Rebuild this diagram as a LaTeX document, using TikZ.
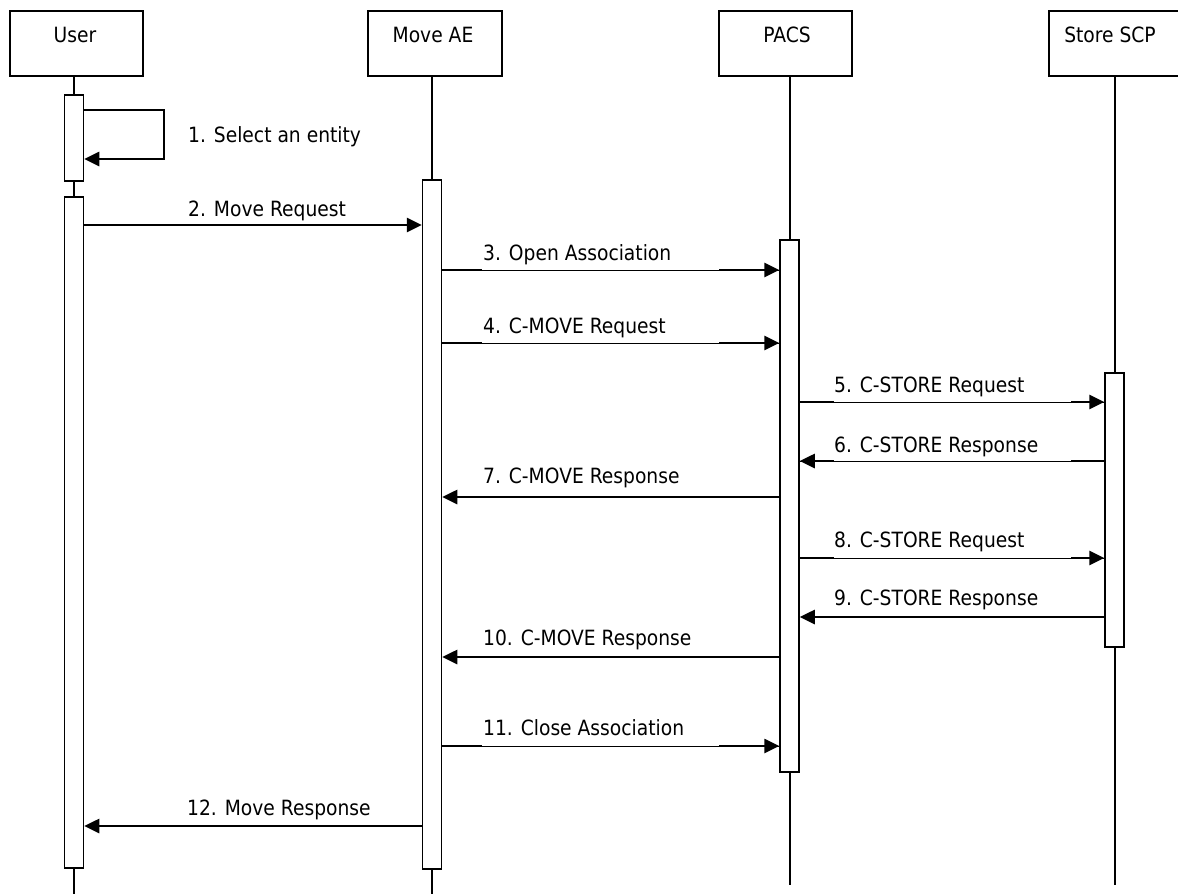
\documentclass[tikz,border=0pt]{standalone}
\usepackage{fontspec}
\setmainfont{DejaVu Sans}[FakeStretch=0.89]
\usetikzlibrary{arrows.meta}
\begin{document}
\begin{tikzpicture}[x=1pt,y=-1pt,
  lbl/.style={font=\fontsize{21}{25}\selectfont, anchor=base west, inner sep=0pt},
  albl/.style={font=\fontsize{21}{25}\selectfont, anchor=base, inner sep=0pt},
  actor/.style={draw, line width=1.8pt, minimum width=133pt, minimum height=65pt, anchor=north west, inner sep=0pt},
  bar/.style={draw, fill=white, line width=1.5pt, minimum width=19pt, anchor=north, inner sep=0pt},
  life/.style={line width=1.6pt},
  msg/.style={line width=2.6pt, -{Triangle[length=15pt,width=14pt]}},
  thickseg/.style={line width=2.6pt},
  thinmsg/.style={line width=1pt}]
\clip (0,0) rectangle (1178,894);
% actors
\node[actor] (user) at (9,10) {};
\node[actor, minimum width=134pt] (move) at (367,10) {};
\node[actor] (pacs) at (718,10) {};
\node[actor] (store) at (1048,10) {};
\node[albl] (tu) at (75,42) {User};
\node[albl] (tm) at (433,42) {Move AE};
\node[albl] (tp) at (787,42) {PACS};
\node[albl] (ts) at (1110,42) {Store SCP};
% lifelines
\coordinate (uEnd) at (74,894);
\coordinate (mEnd) at (432,894);
\coordinate (pEnd) at (790,885);
\coordinate (sEnd) at (1115,885);
\draw[life] (uEnd |- user.south) -- (uEnd);
\draw[life] (mEnd |- move.south) -- (mEnd);
\draw[life] (pEnd |- pacs.south) -- (pEnd);
\draw[life] (sEnd |- store.south) -- (sEnd);
% activation bars
\node[bar, minimum height=86pt] (ua1) at (74,94) {};
\node[bar, minimum height=671pt] (ua2) at (74,196) {};
\node[bar, minimum height=689pt] (ma) at (432,179) {};
\node[bar, minimum height=532pt] (pa) at (789.5,239) {};
\node[bar, minimum height=274pt] (sa) at (1114.5,372) {};
% 1 self message
\draw[msg, line join=miter] (ua1.east |- 0,110) -- (164,110) -- (164,159) -- (ua1.east |- 0,159);
\node[lbl] (l1) at (188,142) {1. Select an entity};
% 2
\draw[msg] (ua2.east |- 0,225) -- (ma.west |- 0,225);
\node[lbl] (l2) at (188,216) {2. Move Request};
% 3
\draw[thinmsg] (ma.east |- 0,270) -- (pa.west |- 0,270);
\draw[thickseg] (ma.east |- 0,270) -- (482,270);
\draw[msg] (719,270) -- (pa.west |- 0,270);
\node[lbl] (l3) at (483,260) {3. Open Association};
% 4
\draw[thinmsg] (ma.east |- 0,343) -- (pa.west |- 0,343);
\draw[thickseg] (ma.east |- 0,343) -- (482,343);
\draw[msg] (719,343) -- (pa.west |- 0,343);
\node[lbl] (l4) at (483,333) {4. C-MOVE Request};
% 5
\draw[thinmsg] (pa.east |- 0,402) -- (sa.west |- 0,402);
\draw[thickseg] (pa.east |- 0,402) -- (834,402);
\draw[msg] (1071,402) -- (sa.west |- 0,402);
\node[lbl] (l5) at (834,392) {5. C-STORE Request};
% 6
\draw[thinmsg] (sa.west |- 0,461) -- (pa.east |- 0,461);
\draw[thickseg] (sa.west |- 0,461) -- (1071,461);
\draw[msg] (834,461) -- (pa.east |- 0,461);
\node[lbl] (l6) at (834,452) {6. C-STORE Response};
% 7
\draw[msg] (pa.west |- 0,497) -- (ma.east |- 0,497);
\node[lbl] (l7) at (483,483) {7. C-MOVE Response};
% 8
\draw[thinmsg] (pa.east |- 0,558) -- (sa.west |- 0,558);
\draw[thickseg] (pa.east |- 0,558) -- (834,558);
\draw[msg] (1071,558) -- (sa.west |- 0,558);
\node[lbl] (l8) at (834,547) {8. C-STORE Request};
% 9
\draw[msg] (sa.west |- 0,617) -- (pa.east |- 0,617);
\node[lbl] (l9) at (834,605) {9. C-STORE Response};
% 10
\draw[msg] (pa.west |- 0,657) -- (ma.east |- 0,657);
\node[lbl] (l10) at (483,645) {10. C-MOVE Response};
% 11
\draw[thinmsg] (ma.east |- 0,746) -- (pa.west |- 0,746);
\draw[thickseg] (ma.east |- 0,746) -- (482,746);
\draw[msg] (719,746) -- (pa.west |- 0,746);
\node[lbl] (l11) at (483,735) {11. Close Association};
% 12
\draw[msg] (ma.west |- 0,826) -- (ua2.east |- 0,826);
\node[lbl] (l12) at (187,815) {12. Move Response};
\end{tikzpicture}
\end{document}
